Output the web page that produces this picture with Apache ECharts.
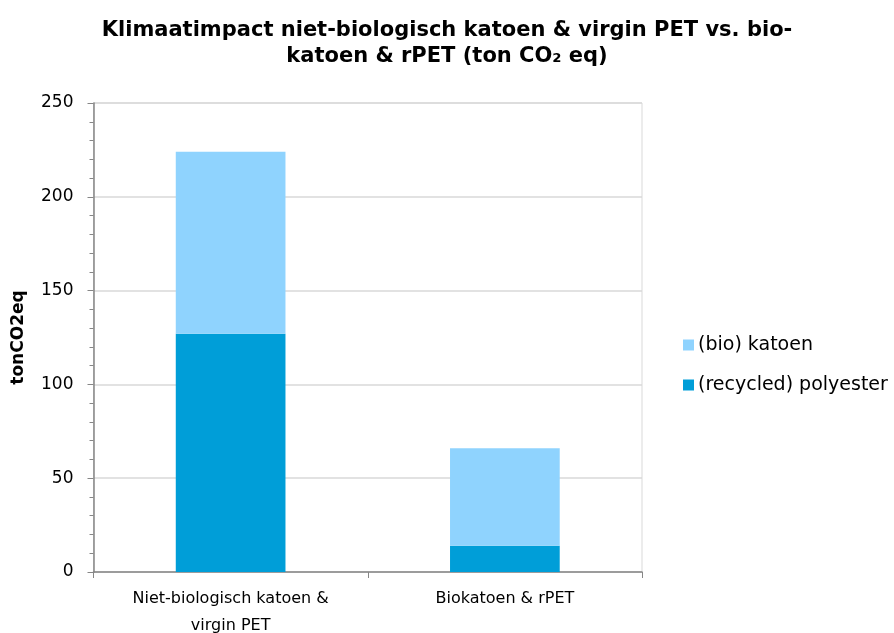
<!DOCTYPE html>
<html>
<head>
<meta charset="utf-8">
<script src="https://cdn.jsdelivr.net/npm/echarts@6/dist/echarts.min.js"></script>
<style>
  html, body { margin: 0; padding: 0; background: #fff; }
  #chart { width: 894px; height: 633px; }
</style>
</head>
<body>
<div id="chart"></div>
<script>
// data
var categories = ['Niet-biologisch katoen &\nvirgin PET', 'Biokatoen & rPET'];
var polyester = [127, 14];   // (recycled) polyester
var katoen = [97, 52];       // (bio) katoen
var seriesNames = ['(recycled) polyester', '(bio) katoen'];
var yTicks = { min: 0, max: 250, interval: 50 };

var myChart = echarts.init(document.getElementById('chart'));
var font = 'DejaVu Sans';
var option = {
    animation: false,
    title: {
        text: 'Klimaatimpact niet-biologisch katoen & virgin PET vs. bio-\nkatoen & rPET (ton CO\u2082 eq)',
        left: 'center',
        top: 13,
        textStyle: {
            fontFamily: font,
            fontWeight: 'bold',
            fontSize: 21,
            lineHeight: 26,
            color: '#000'
        }
    },
    legend: {
        orient: 'vertical',
        left: 678,
        top: 330,
        itemWidth: 11,
        itemHeight: 11,
        itemGap: 20,
        icon: 'rect',
        data: [seriesNames[1], seriesNames[0]],
        textStyle: {
            fontFamily: font,
            fontSize: 19,
            lineHeight: 20,
            color: '#000',
            padding: [0, 0, 0, -1]
        }
    },
    grid: {
        left: 93.5,
        right: 252,
        top: 103,
        bottom: 61,
        outerBoundsMode: 'none',
        containLabel: false,
        show: true,
        borderColor: '#d9d9d9',
        borderWidth: 1
    },
    xAxis: {
        type: 'category',
        data: categories,
        axisLine: { lineStyle: { color: '#868686', width: 1.5 } },
        axisTick: { show: true, length: 6, lineStyle: { color: '#868686' } },
        axisLabel: {
            fontFamily: font,
            fontSize: 16,
            lineHeight: 27,
            color: '#000',
            margin: 13
        }
    },
    yAxis: {
        type: 'value',
        min: yTicks.min,
        max: yTicks.max,
        interval: yTicks.interval,
        name: 'tonCO2eq',
        nameLocation: 'middle',
        nameGap: 66,
        nameTextStyle: {
            fontFamily: font,
            fontWeight: 'bold',
            fontSize: 17,
            color: '#000'
        },
        axisLine: { show: true, lineStyle: { color: '#868686', width: 1.5 } },
        axisTick: { show: true, length: 6, lineStyle: { color: '#868686' } },
        minorTick: { show: true, splitNumber: 5, length: 4, lineStyle: { color: '#868686' } },
        splitLine: { lineStyle: { color: '#d9d9d9', width: 1.5 } },
        axisLabel: {
            fontFamily: font,
            fontSize: 17,
            color: '#000',
            margin: 20
        }
    },
    series: [{
        name: seriesNames[0],
        type: 'bar',
        stack: 'total',
        barWidth: '40%',
        itemStyle: { color: '#009ed8' },
        data: polyester
    }, {
        name: seriesNames[1],
        type: 'bar',
        stack: 'total',
        barWidth: '40%',
        itemStyle: { color: '#8fd3fe' },
        data: katoen
    }]
};
myChart.setOption(option);
</script>
</body>
</html>
